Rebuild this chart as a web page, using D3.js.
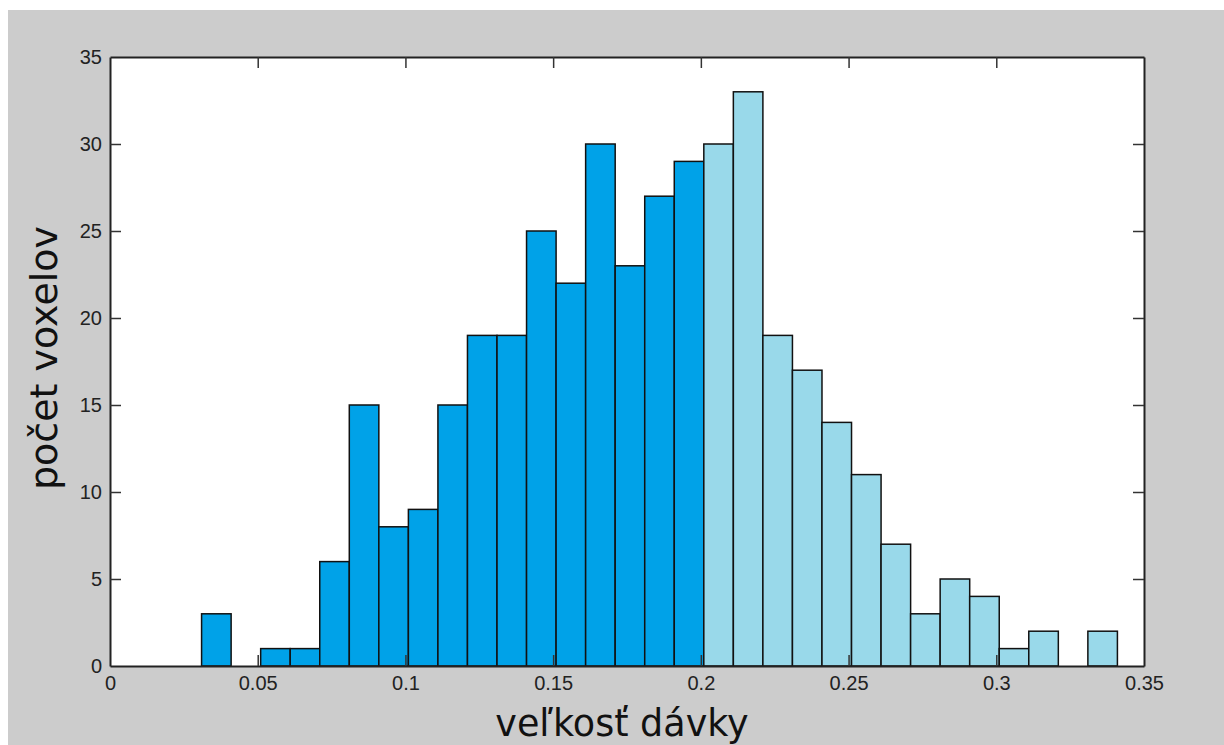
<!DOCTYPE html>
<html><head><meta charset="utf-8">
<script src="https://cdn.jsdelivr.net/npm/d3@7"></script>
<style>body{margin:0;background:#fff;}svg{display:block;}</style>
</head><body>
<script>
// Histogram data: bin edges start at 0.031 with width 0.01
const binStarts = [0.031,0.041,0.051,0.061,0.071,0.081,0.091,0.101,0.111,0.121,0.131,0.141,0.151,0.161,0.171,0.181,0.191,0.201,0.211,0.221,0.231,0.241,0.251,0.261,0.271,0.281,0.291,0.301,0.311,0.321,0.331];
const binWidth = 0.01;
const counts = [3,0,1,1,6,15,8,9,15,19,19,25,22,30,23,27,29,30,33,19,17,14,11,7,3,5,4,1,2,0,2];
const splitAt = 0.2;
const xTicks = [0,0.05,0.1,0.15,0.2,0.25,0.3,0.35];
const xTickLabels = ["0","0.05","0.1","0.15","0.2","0.25","0.3","0.35"];
const yTicks = [0,5,10,15,20,25,30,35];
const xTitle = "veľkosť dávky";
const yTitle = "počet voxelov";

const W=1224,H=745;
const svg=d3.select("body").append("svg").attr("width",W).attr("height",H);
svg.append("rect").attr("x",8).attr("y",10).attr("width",W-8).attr("height",H-10).attr("fill","#cccccc");
const L=110,R=1144,T=57,B=666;
svg.append("rect").attr("x",L).attr("y",T).attr("width",R-L).attr("height",B-T).attr("fill","#fff");

const x=d3.scaleLinear().domain([0,0.35]).range([L,R]);
const y=d3.scaleLinear().domain([0,35]).range([B,T]);

const data=binStarts.map((s,i)=>({s,c:counts[i]}));
svg.append("g").selectAll("rect").data(data.filter(d=>d.c>0)).join("rect")
  .attr("x",d=>x(d.s)).attr("width",d=>x(d.s+binWidth)-x(d.s))
  .attr("y",d=>y(d.c)).attr("height",d=>y(0)-y(d.c))
  .attr("fill",d=>d.s<splitAt?"#00a2e8":"#99d9ea")
  .attr("stroke","#111").attr("stroke-width",1.5);

const tl=11;
const font="'Liberation Sans', Arial, sans-serif";
const gb=svg.append("g").attr("transform",`translate(0,${B})`)
  .call(d3.axisBottom(x).tickValues(xTicks).tickFormat((d,i)=>xTickLabels[i]).tickSizeInner(-tl).tickSizeOuter(0).tickPadding(10));
const gt=svg.append("g").attr("transform",`translate(0,${T})`)
  .call(d3.axisTop(x).tickValues(xTicks).tickFormat("").tickSizeInner(-tl).tickSizeOuter(0));
const gl=svg.append("g").attr("transform",`translate(${L},0)`)
  .call(d3.axisLeft(y).tickValues(yTicks).tickSizeInner(-tl).tickSizeOuter(0).tickPadding(8));
const gr=svg.append("g").attr("transform",`translate(${R},0)`)
  .call(d3.axisRight(y).tickValues(yTicks).tickFormat("").tickSizeInner(-tl).tickSizeOuter(0));
[gb,gt,gl,gr].forEach(g=>{
  g.selectAll(".domain").attr("stroke","#222").attr("stroke-width",2);
  g.selectAll(".tick line").attr("stroke","#333").attr("stroke-width",1.5);
  g.selectAll("text").attr("font-family",font).attr("font-size",20).attr("fill","#222");
});
[gb,gt].forEach(g=>g.selectAll(".tick line").filter(d=>d===0||d===0.35).remove());
[gl,gr].forEach(g=>g.selectAll(".tick line").filter(d=>d===0||d===35).remove());

svg.append("text").attr("x",622).attr("y",736).attr("text-anchor","middle")
  .attr("font-family","'DejaVu Sans', sans-serif").attr("font-size",36.5).attr("fill","#111").text(xTitle);
svg.append("text").attr("transform",`translate(57,358) rotate(-90)`).attr("text-anchor","middle")
  .attr("font-family","'DejaVu Sans', sans-serif").attr("font-size",38).attr("fill","#111").text(yTitle);
</script>
</body></html>
